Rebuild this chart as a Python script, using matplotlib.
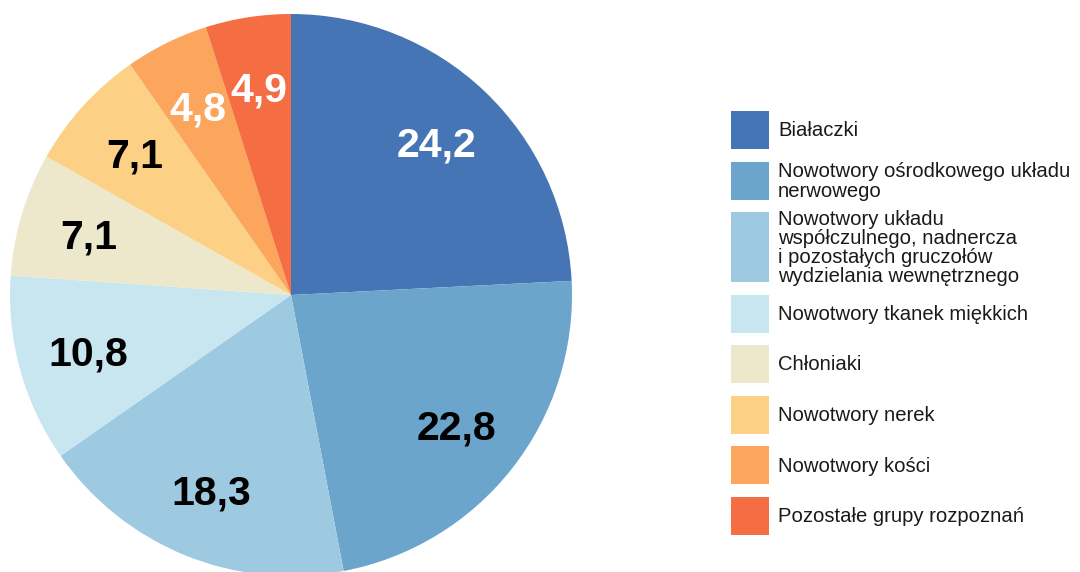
import matplotlib
matplotlib.use("Agg")
import matplotlib.pyplot as plt
from matplotlib.patches import Rectangle
import numpy as np

categories = [
    "Białaczki",
    "Nowotwory ośrodkowego układu\nnerwowego",
    "Nowotwory układu\nwspółczulnego, nadnercza\ni pozostałych gruczołów\nwydzielania wewnętrznego",
    "Nowotwory tkanek miękkich",
    "Chłoniaki",
    "Nowotwory nerek",
    "Nowotwory kości",
    "Pozostałe grupy rozpoznań",
]
values = [24.2, 22.8, 18.3, 10.8, 7.1, 7.1, 4.8, 4.9]
value_labels = ["24,2", "22,8", "18,3", "10,8", "7,1", "7,1", "4,8", "4,9"]
colors = ["#4575b4", "#6ca5cc", "#9ecae1", "#c8e6f0", "#ede8cb",
          "#fcd185", "#fba55d", "#f46d43"]
label_colors = ["white", "black", "black", "black", "black", "black", "white", "white"]

W, H = 1080, 572
fig = plt.figure(figsize=(W / 100, H / 100), dpi=100)

# pie axes: circle centre (291, 295) px from top-left, radius 281 px
cx, cy, R = 291, 295, 281
ax = fig.add_axes([(cx - R) / W, (H - cy - R) / H, 2 * R / W, 2 * R / H])
ax.axis("off")

wedges, _ = ax.pie(values, colors=colors, startangle=90, counterclock=False,
                   radius=1, wedgeprops=dict(linewidth=0))
ax.set_xlim(-1, 1)
ax.set_ylim(-1, 1)

fs = 29.5
cap_pt = 0.716 * fs
for w, lab, lc in zip(wedges, value_labels, label_colors):
    th = np.deg2rad((w.theta1 + w.theta2) / 2)
    r = 0.75
    ax.annotate(lab, xy=(r * np.cos(th), r * np.sin(th)),
                xytext=(0, -cap_pt / 2), textcoords="offset points",
                ha="center", va="baseline",
                fontsize=fs, fontweight="bold", color=lc, family="Liberation Sans")

# legend drawn in pixel coordinates
def px(x, y):
    return x / W, 1 - y / H

box_x, box_w = 731, 38
text_x = 778
line_h = 21
top = 111
for cat, col in zip(categories, colors):
    n = cat.count("\n") + 1
    bh = max(38, n * line_h - 14)
    bx, by = px(box_x, top + bh)
    fig.add_artist(Rectangle((bx, by), box_w / W, bh / H, transform=fig.transFigure,
                             facecolor=col, edgecolor="none"))
    tx, ty = px(text_x, top + bh / 2 + 1)
    fig.text(tx, ty, cat, ha="left", va="center", fontsize=14.6,
             family="Liberation Sans", color="#1a1a1a", linespacing=1.02)
    top += bh + 12.5

fig.savefig("out.png", dpi=100)
